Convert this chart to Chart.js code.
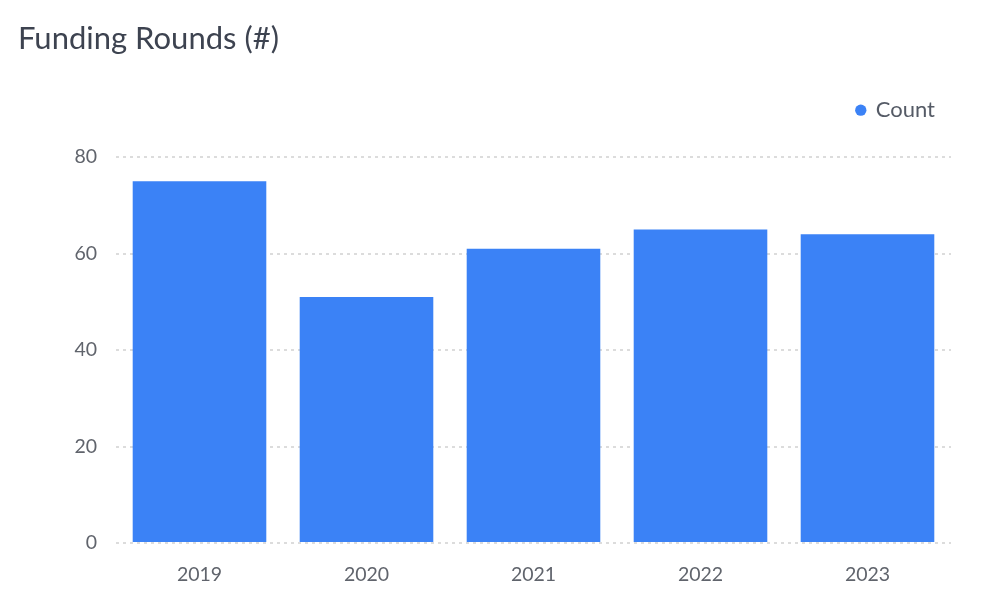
<!DOCTYPE html>
<html>
<head>
<meta charset="utf-8">
<script src="https://cdn.jsdelivr.net/npm/chart.js@4"></script>
<style>
  html, body { margin: 0; padding: 0; background: #ffffff; }
  #wrap { width: 994px; height: 602px; position: relative; }
</style>
</head>
<body>
<div id="wrap"><canvas id="c"></canvas></div>
<script>
const categories = ['2019', '2020', '2021', '2022', '2023'];
const countValues = [75, 51, 61, 65, 64];
const yTicks = [0, 20, 40, 60, 80];
const seriesName = 'Count';
const chartTitle = 'Funding Rounds (#)';

const FONT = "Lato, 'Noto Sans', 'DejaVu Sans', sans-serif";

const legendSpacer = {
  id: 'legendSpacer',
  beforeInit(chart) {
    const origFit = chart.legend.fit;
    chart.legend.fit = function () {
      origFit.bind(chart.legend)();
      this.height += 25.8;
    };
  }
};

new Chart(document.getElementById('c'), {
  type: 'bar',
  data: {
    labels: categories,
    datasets: [{
      label: seriesName,
      data: countValues,
      backgroundColor: '#3b82f6',
      borderWidth: 0,
      categoryPercentage: 1.0,
      barPercentage: 0.8
    }]
  },
  plugins: [legendSpacer],
  options: {
    responsive: true,
    maintainAspectRatio: false,
    animation: false,
    devicePixelRatio: 1,
    layout: { padding: { left: 18, right: 43, top: 0, bottom: 0 } },
    plugins: {
      title: {
        display: true,
        text: chartTitle,
        align: 'start',
        color: '#3d4350',
        font: { family: FONT, size: 31, weight: 'normal' },
        padding: { top: 20, bottom: 26 }
      },
      legend: {
        display: true,
        position: 'top',
        align: 'end',
        labels: {
          usePointStyle: true,
          pointStyle: 'circle',
          boxWidth: 8,
          boxHeight: 8,
          color: '#555b66',
          font: { family: FONT, size: 22 },
          padding: 16
        }
      },
      tooltip: { enabled: false }
    },
    scales: {
      x: {
        afterFit: (axis) => { axis.height = 59; },
        grid: { display: false, drawTicks: false },
        border: { display: false },
        ticks: { color: '#60646c', font: { family: FONT, size: 19.5 }, padding: 20 }
      },
      y: {
        min: 0,
        max: 80,
        afterBuildTicks: (axis) => { axis.ticks = yTicks.map(v => ({ value: v })); },
        afterFit: (axis) => { axis.width = 98; },
        grid: { color: '#dcdcdc', lineWidth: 2, drawTicks: false },
        border: { display: false, dash: [3, 4] },
        ticks: { color: '#60646c', font: { family: FONT, size: 19.5 }, padding: 19 }
      }
    }
  }
});
</script>
</body>
</html>
